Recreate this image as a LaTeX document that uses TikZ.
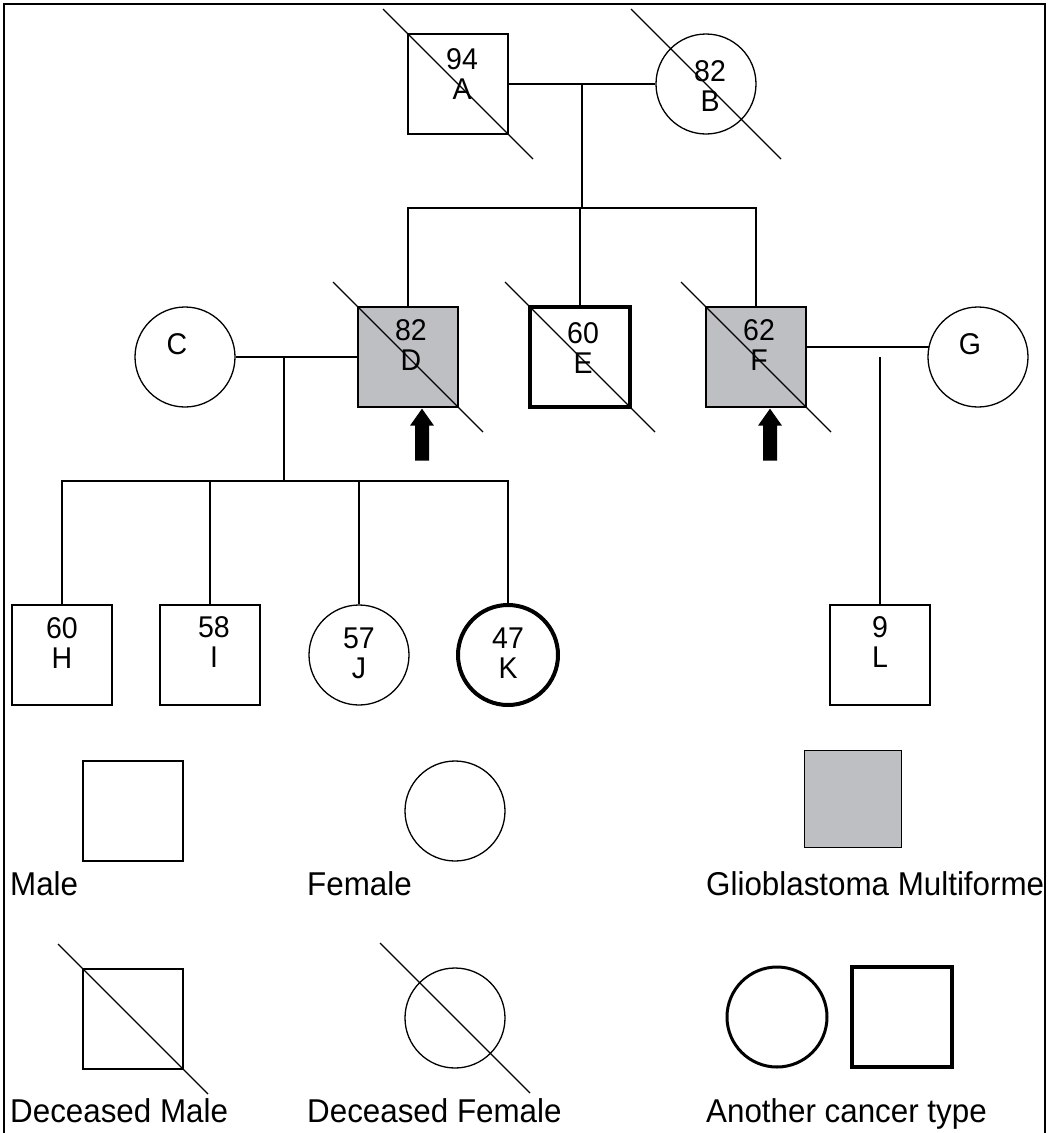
\documentclass[tikz,border=0pt]{standalone}
\usepackage{fontspec}
\setmainfont{Liberation Sans}[FakeStretch=0.95]
\usetikzlibrary{calc}
\definecolor{gbm}{RGB}{190,191,194}
\newcommand\deceased[1]{\draw[ln] ($(#1.center)+(-75,-75)$) -- ($(#1.center)+(75,75)$);}
\newcommand\probarrow[1]{\fill ($(#1.south)+(14,1)$) -- ++(12,17) -- ++(-5,0) -- ++(0,35) -- ++(-14,0) -- ++(0,-35) -- ++(-5,0) -- cycle;}
\begin{document}
\begin{tikzpicture}[x=1pt,y=-1pt,
  ln/.style={line width=1.3pt},
  sq/.style={draw, rectangle, minimum size=100pt, inner sep=0pt, line width=1.3pt},
  ci/.style={draw, circle, minimum size=100pt, inner sep=0pt, line width=1.3pt},
  aff/.style={fill=gbm},
  other/.style={line width=4pt},
  lbl/.style={inner sep=0pt, align=center, font=\fontsize{30}{30}\selectfont},
  leg/.style={anchor=base west, inner sep=0pt, font=\fontsize{33}{36}\selectfont}]
\useasboundingbox (0,0) rectangle (1048,1133);
\draw[line width=1.8pt] (4,1133) -- (4,4) -- (1045,4) -- (1045,1133);

% generation I
\node[sq] (A) at (458,84) {};
\node[ci] (B) at (706,84) {};
% generation II
\node[ci] (C) at (185,357) {};
\node[sq, aff] (D) at (408,357) {};
\node[sq, other] (E) at (580,357) {};
\node[sq, aff] (F) at (756,357) {};
\node[ci] (G) at (978,357) {};
% generation III
\node[sq] (H) at (62,655) {};
\node[sq] (I) at (210,655) {};
\node[ci] (J) at (359,655) {};
\node[ci, other] (K) at (508,655) {};
\node[sq] (L) at (880,655) {};

\deceased{A}\deceased{B}\deceased{D}\deceased{E}\deceased{F}

% labels
\node[lbl] (At) at ($(A)+(4,-10)$) {94\\A};
\node[lbl] (Bt) at ($(B)+(4,2)$) {82\\B};
\node[lbl] (Ct) at ($(C)+(-8,-13)$) {C};
\node[lbl] (Dt) at ($(D)+(3,-12)$) {82\\D};
\node[lbl] (Et) at ($(E)+(3,-9)$) {60\\E};
\node[lbl] (Ft) at ($(F)+(3,-12)$) {62\\F};
\node[lbl] (Gt) at ($(G)+(-8,-13)$) {G};
\node[lbl] (Ht) at ($(H)+(0,-12)$) {60\\H};
\node[lbl] (It) at ($(I)+(4,-13)$) {58\\I};
\node[lbl] (Jt) at ($(J)+(0,-2)$) {57\\J};
\node[lbl] (Kt) at ($(K)+(0,-2)$) {47\\K};
\node[lbl] (Lt) at ($(L)+(0,-13)$) {9\\L};

% connectors
\coordinate (ab) at (582,84);
\coordinate (sib1) at (582,208);
\draw[ln] (A.east) -- (B.west);
\draw[ln] (ab) -- (sib1);
\draw[ln] (D.north) -- (D.north |- sib1) -- (F.north |- sib1) -- (F.north);
\draw[ln] (E.north) -- (E.north |- sib1);

\coordinate (cd) at (284,357);
\coordinate (sib2) at (284,481);
\draw[ln] (C.east) -- (D.west);
\draw[ln] (cd) -- (sib2);
\draw[ln] (H.north) -- (H.north |- sib2) -- (K.north |- sib2) -- (K.north);
\draw[ln] (I.north) -- (I.north |- sib2);
\draw[ln] (J.north) -- (J.north |- sib2);

\coordinate (fgl) at ($(F.east)+(0,-10)$);
\coordinate (fgr) at ($(G.center)+(-49,-10)$);
\coordinate (fg) at (880,357);
\draw[ln] (fgl) -- (fgr);
\draw[ln] (fg) -- (L.north);

% proband arrows
\probarrow{D}
\probarrow{F}

% legend
\node[sq] (lm) at (133,811) {};
\node[ci] (lf) at (455,811) {};
\node[sq, aff, minimum size=97pt] (lg) at (853,799) {};
\node[leg] (lmt) at (10,895) {Male};
\node[leg] (lft) at (307,895) {Female};
\node[leg] (lgt) at (706,895) {Glioblastoma Multiforme};

\node[sq] (ldm) at (133,1019) {};
\node[ci] (ldf) at (455,1018) {};
\deceased{ldm}\deceased{ldf}
\node[ci, line width=3pt] (loc) at (777,1017) {};
\node[sq, other] (los) at (902,1017) {};
\node[leg] (ldmt) at (10,1122) {Deceased Male};
\node[leg] (ldft) at (307,1122) {Deceased Female};
\node[leg] (lot) at (706,1122) {Another cancer type};
\end{tikzpicture}
\end{document}
